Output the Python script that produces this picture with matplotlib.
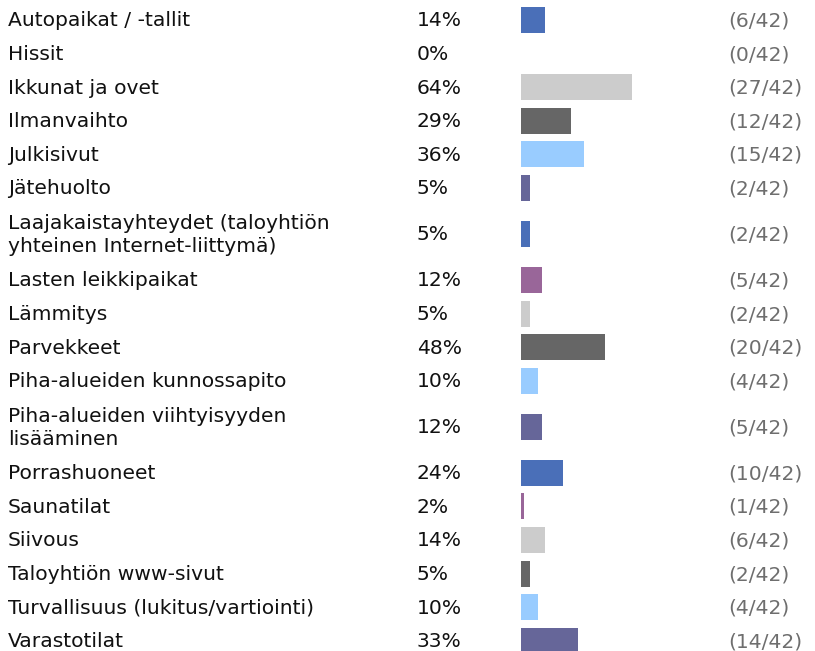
import matplotlib.pyplot as plt

categories = [
    "Autopaikat / -tallit",
    "Hissit",
    "Ikkunat ja ovet",
    "Ilmanvaihto",
    "Julkisivut",
    "Jätehuolto",
    "Laajakaistayhteydet (taloyhtiön\nyhteinen Internet-liittymä)",
    "Lasten leikkipaikat",
    "Lämmitys",
    "Parvekkeet",
    "Piha-alueiden kunnossapito",
    "Piha-alueiden viihtyisyyden\nlisääminen",
    "Porrashuoneet",
    "Saunatilat",
    "Siivous",
    "Taloyhtiön www-sivut",
    "Turvallisuus (lukitus/vartiointi)",
    "Varastotilat",
]
percents = [14, 0, 64, 29, 36, 5, 5, 12, 5, 48, 10, 12, 24, 2, 14, 5, 10, 33]
counts = [6, 0, 27, 12, 15, 2, 2, 5, 2, 20, 4, 5, 10, 1, 6, 2, 4, 14]
total = 42

palette = ["#4a6fb8", "#996699", "#cccccc", "#666666", "#99ccff", "#666699"]

# layout in pixels
W, H = 815, 651
ROW = 33.6
ROW2 = 58.4
BAR_X = 521
BAR_SCALE = 1.74  # px per percent
BAR_H = 26


def row_centers(labels):
    centers = []
    y = 3.2
    for lab in labels:
        h = ROW2 if "\n" in lab else ROW
        centers.append(y + h / 2)
        y += h
    return centers


def main():
    fig = plt.figure(figsize=(W / 100, H / 100), dpi=100)
    ax = fig.add_axes([0, 0, 1, 1])
    ax.set_xlim(0, W)
    ax.set_ylim(H, 0)
    ax.axis("off")

    ys = row_centers(categories)
    colors = [palette[i % len(palette)] for i in range(len(categories))]
    widths = [p * BAR_SCALE for p in percents]
    ax.barh(ys, widths, left=BAR_X, height=BAR_H, color=colors)

    fs = 14.6
    for y, lab, p, c in zip(ys, categories, percents, counts):
        ax.text(8, y + 1, lab, va="center", ha="left", fontsize=fs,
                color="#111111", linespacing=1.28)
        ax.text(417, y + 1, f"{p}%", va="center", ha="left", fontsize=fs,
                color="#111111")
        ax.text(728, y + 1, f"({c}/{total})", va="center", ha="left",
                fontsize=fs, color="#6e6e6e")

    fig.savefig("out.png", dpi=100)


if __name__ == "__main__":
    main()
